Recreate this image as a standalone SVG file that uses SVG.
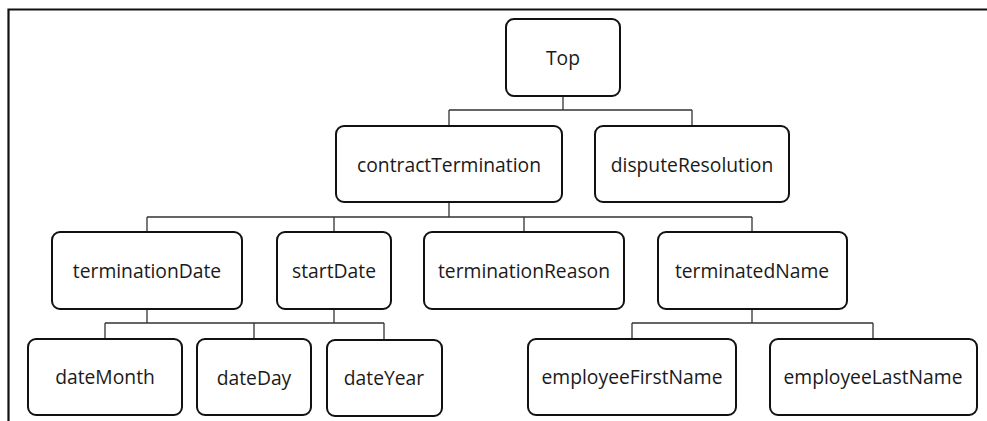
<svg xmlns="http://www.w3.org/2000/svg" width="987" height="421" viewBox="0 0 987 421">
<style>
.n rect{fill:#fff;stroke:#111;stroke-width:2}
.n text{font-family:"Open Sans","Noto Sans",sans-serif;font-size:19.3px;fill:#1a1a1a;text-anchor:middle}
#connectors path{fill:none;stroke:#333;stroke-width:1.3}
</style>
<rect width="987" height="421" fill="#fff"/>
<path d="M8.5,421 V9.5 H987" fill="none" stroke="#111" stroke-width="2.2"/>
<g id="connectors">
<path d="M563,96 V110 M449,110 H692 M449,110 V126 M692,110 V126"/>
<path d="M449,202 V217 M147,217 H752 M147,217 V232 M334,217 V232 M524,217 V232 M752,217 V232"/>
<path d="M147,309 V323 M334,309 V323 M105,323 H384 M105,323 V339 M254,323 V339 M384,323 V340"/>
<path d="M752,309 V323 M632,323 H873 M632,323 V339 M873,323 V339"/>
</g>
<g id="top" class="n"><rect x="506" y="19" width="114" height="77" rx="8"/><text x="563" y="65">Top</text></g>
<g id="contractTermination" class="n"><rect x="336" y="126" width="226" height="76" rx="8"/><text x="449" y="172">contractTermination</text></g>
<g id="disputeResolution" class="n"><rect x="595" y="126" width="194" height="76" rx="8"/><text x="692" y="172">disputeResolution</text></g>
<g id="terminationDate" class="n"><rect x="52" y="232" width="190" height="77" rx="8"/><text x="147" y="278">terminationDate</text></g>
<g id="startDate" class="n"><rect x="277" y="232" width="114" height="77" rx="8"/><text x="334" y="278">startDate</text></g>
<g id="terminationReason" class="n"><rect x="424" y="232" width="200" height="77" rx="8"/><text x="524" y="278">terminationReason</text></g>
<g id="terminatedName" class="n"><rect x="658" y="232" width="189" height="77" rx="8"/><text x="752" y="278">terminatedName</text></g>
<g id="dateMonth" class="n"><rect x="28" y="339" width="154" height="76" rx="8"/><text x="105" y="384">dateMonth</text></g>
<g id="dateDay" class="n"><rect x="197" y="339" width="114" height="76" rx="8"/><text x="254" y="385">dateDay</text></g>
<g id="dateYear" class="n"><rect x="327" y="340" width="115" height="76" rx="8"/><text x="384" y="385">dateYear</text></g>
<g id="employeeFirstName" class="n"><rect x="528" y="339" width="208" height="76" rx="8"/><text x="632" y="384">employeeFirstName</text></g>
<g id="employeeLastName" class="n"><rect x="770" y="339" width="207" height="76" rx="8"/><text x="873" y="384">employeeLastName</text></g>
</svg>
